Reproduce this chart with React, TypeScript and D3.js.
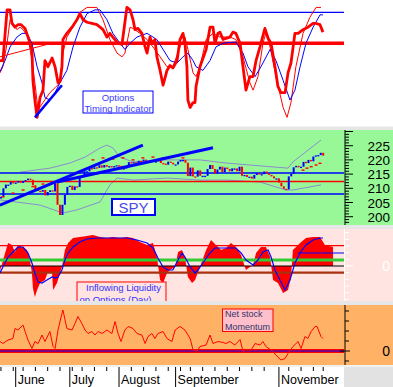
import React from 'react';
import * as d3 from 'd3';

const W = 393;
const H = 387;
const PLOT_R = 344;

// trading-day index (0 = May 23) of month starts and week starts
const monthNames = ['June', 'July', 'August', 'September', 'November'];
const monthStarts = [6, 28, 48, 71, 113];
const weekStarts = [0, 5, 9, 14, 19, 24, 29, 33, 38, 43, 53, 58, 63, 68, 73, 77, 82, 87, 92, 97, 102, 107, 117, 122, 127, 131];

// options timing indicator  [day, value]
const oscRaw = [[-0.4,51],[0.8,51],[1.7,73],[2.5,92],[3.7,92],[4.5,81],[5.7,78],[6.9,80],[8.2,80],[9.8,77],[11,70],[12.6,60],[13,35],[13.8,19],[14.7,5],[15.9,21],[17.1,27],[17.9,51],[19.1,46],[20.8,53],[22,46],[23.2,33],[24,34],[24.8,46],[25.2,68],[26.8,73],[28.9,78],[30.9,84],[32.1,89],[33.4,84],[35,82],[37,81],[39,80],[40.3,78],[41.5,76],[43.1,70],[44.3,73],[45.5,70],[47.6,65],[49.2,64],[51.2,94],[52.5,92],[53.7,84],[54.5,76],[55.7,77],[57.3,73],[58.6,62],[59.4,57],[60.6,70],[61.4,65],[62.6,68],[63.4,54],[64.7,43],[65.9,31],[67.5,43],[68.7,47],[69.9,45],[71.6,51],[72.8,68],[74,73],[74.8,65],[75.6,46],[76,19],[76.9,13],[78.1,17],[78.9,17],[79.3,30],[80.9,46],[83.4,60],[85,78],[86.2,78],[87,65],[88.2,73],[89,74],[90.3,68],[91.5,69],[93.1,70],[94.3,74],[95.5,73],[97.2,65],[98.4,46],[99.6,27],[101.2,38],[102.5,38],[103.7,51],[105.3,62],[107.3,77],[108.6,69],[109.8,65],[111.4,46],[112.6,30],[113.8,25],[115.5,25],[116.7,41],[117.9,49],[119.5,73],[120.8,73],[122.8,76],[124.8,78],[126.9,81],[128.1,81],[129.7,80],[130.9,74]];
const oscFast = [[-0.4,41],[0.8,46],[2.5,65],[3.7,84],[4.9,81],[6.5,76],[7.7,78],[9,76],[11,70],[12.6,51],[13.8,33],[15.1,11],[17.1,17],[19.9,25],[22,29],[24,33],[25.2,57],[26.8,70],[29.3,78],[32.1,90],[35,94],[39,94],[41.5,84],[44.3,68],[47.2,57],[49.2,54],[50.4,57],[52.5,78],[53.7,77],[56.5,73],[59.4,68],[61.8,62],[64.7,54],[67.5,46],[69.9,46],[72.8,62],[74.8,70],[76,60],[78.1,41],[79.3,38],[80.9,46],[83.4,68],[86.2,73],[89,70],[93.1,70],[95.5,68],[98.4,54],[101.2,33],[102.5,27],[104.5,38],[106.5,65],[107.7,73],[109.4,62],[111.8,38],[114.7,13],[116.3,5],[117.9,17],[119.9,46],[122.8,73],[125.6,86],[128.1,94],[130.1,94]];
const oscSlow = [[-0.4,42],[1.7,51],[3.7,62],[6.5,70],[8.6,73],[10.6,73],[12.6,65],[14.7,46],[16.7,33],[17.9,21],[19.9,19],[22,25],[24,33],[26.8,43],[29.3,62],[32.1,78],[35,89],[38.2,92],[40.3,92],[43.1,84],[45.5,73],[48.4,65],[50.4,60],[52.5,65],[55.3,70],[59.4,73],[63.4,68],[65.9,60],[68.7,51],[71.6,49],[74,54],[76,57],[78.1,51],[79.3,46],[82.1,43],[85,51],[87.4,62],[90.3,65],[95.5,66],[98.4,57],[100.4,46],[103.3,38],[105.7,46],[109.4,60],[111.8,51],[114.7,35],[117.5,19],[119.5,27],[121.6,46],[124,65],[126.9,78],[129.7,88],[130.9,88]];
const oscTrendBlue = [[13.8,5],[24.8,31]];
const oscTrendRed = [[-0.4,54],[18.7,64]];
const oscLevels = [90, 65];

// SPY daily closes, day 0 .. 131
const spyClose = [207,210,211.3,211.3,212.2,211.9,212,212.6,211.9,212.6,212.9,213.4,213,211.1,209.5,209.1,208.8,209.4,207.5,208.7,209.3,208.9,211.8,204.2,200.6,204.2,207.7,210.5,210.9,209.4,210.7,210.5,213.7,214.4,216,216,217.1,216.8,217.4,217.2,218.1,217.3,218.2,217.6,217.8,217.5,217.8,218.1,217.9,216.6,217.2,217.4,219.2,219.1,219.2,218.6,219.7,219.5,220.1,219,219.4,219.9,219.5,219.5,219.9,218.9,218.7,218.3,219.4,219,218.4,218.4,219.4,220,220,219,214.3,217.3,214.2,214.1,216.3,214.4,214.4,214.4,216.8,218.2,216.8,215.2,216.6,217.6,215.7,217.3,216.8,216,217,217,216,217.6,214.4,214.7,214,214.1,213.4,214.7,215.3,214.9,215,215.9,215.2,214.7,214.2,213.5,213.5,212,210.7,209.8,209.6,214.2,215.1,217.4,217.9,217.4,217.6,219.3,218.9,220,219.5,221.2,221.6,221.7,222.5,221.5];
const bbUpper = [[7.8,215.7],[19.9,217.1],[28.1,218.9],[34.2,221],[40.3,224.2],[43.1,225.2],[45.5,224.2],[48.4,221],[53.7,219.3],[67.5,220],[80.9,220],[91.5,218.9],[105.3,217.9],[116.7,217.1],[118.7,219.3],[130.1,227]];
const bbLower = [[-0.4,205.9],[15.9,204.1],[25.2,201.3],[30.9,202.4],[40.3,205.2],[44.3,211.2],[47.2,213.6],[53.7,212.9],[67.5,213.6],[80.9,212.9],[91.5,212.9],[105.3,212.2],[115.9,209.4],[118.7,209.4],[130.1,211.2]];
const sarDots = [[0.8,207],[4.9,208.3],[9,209.4],[13,210.6],[17.1,211.5],[21.2,211.9],[37.4,220],[41.5,220.7],[45.5,220.3],[49.6,220.7],[53.7,220],[57.7,220.7],[61.8,221],[65.9,220.7],[69.9,221],[74,220.7],[122.8,216.4],[124.4,217.1],[126.1,217.6],[128.1,218.2],[129.7,218.8]];
const spyTrendA = [[-0.4,204.1],[57.7,225.2]];
const spyTrendB = [[22.8,212.2],[86.2,224.3]];
const spyLevels = [215.4, 212.4, 208.0];
const spyTicks = [200, 205, 210, 215, 220, 225];

// inflowing liquidity on options
const liqFlow = [[-0.4,-15],[1.7,39],[2.9,69],[4.5,63],[5.7,42],[6.9,63],[8.6,57],[10.6,48],[11.8,18],[12.6,-21],[13,-66],[13.8,-93],[14.7,-72],[15.9,-51],[17.9,-42],[19.1,-18],[20.8,-21],[21.2,-72],[22.8,-51],[24,-21],[24.8,-3],[26,48],[27.3,69],[29.3,84],[32.1,87],[35,90],[37.4,93],[40.3,87],[43.1,84],[45.5,87],[48.4,84],[51.2,87],[53.7,84],[56.5,72],[59.4,63],[61.8,69],[63.4,27],[64.7,-42],[65.9,-51],[67.5,-21],[68.7,-12],[70.8,-3],[72,42],[73.6,48],[74.8,27],[76,-33],[77.7,-51],[78.9,-42],[80.9,-3],[83.4,48],[85.4,78],[87.4,63],[89.5,48],[91.5,54],[93.5,69],[95.5,57],[97.6,33],[99.2,-3],[99.6,-12],[101.2,-3],[102.5,3],[103.7,39],[105.7,57],[107.7,57],[109.4,27],[110.6,-42],[112.6,-51],[114.7,-81],[116.7,-72],[117.9,-33],[118.7,48],[121.6,69],[124,84],[126.9,87],[129.7,87],[131.7,63],[135,57]];
const liqSmooth = [[-0.4,-21],[0.8,-3],[2.9,27],[4.9,42],[6.9,57],[9,57],[11,39],[12.6,9],[13.8,-21],[15.1,-48],[16.7,-51],[18.7,-42],[20.8,-33],[22,-36],[23.2,-33],[24.8,-12],[26,18],[27.3,39],[29.3,57],[32.1,72],[35,81],[39,84],[43.1,84],[47.2,84],[51.2,84],[55.3,78],[59.4,69],[61.8,54],[63.8,24],[65.9,-3],[67.9,-12],[69.9,-12],[72,18],[73.6,39],[74.8,27],[76.9,-3],[78.9,-21],[80.1,-12],[82.1,9],[85,39],[87,54],[89,54],[93.1,54],[95.5,54],[97.6,39],[99.6,18],[102.5,3],[104.5,18],[106.5,42],[108.6,48],[109.8,27],[111.4,-12],[113.4,-42],[115.5,-72],[117.5,-42],[119.5,9],[121.6,39],[124,63],[126.9,78],[129.7,84],[130.9,84]];
const liqLevels = [61, 18, 0, -20];
const liqMarker = [[120.8,39],[139.5,39]];
const liqTicks = [-100, -80, -60, -40, -20, 0, 20, 40, 60, 80, 100];

// net stock momentum
const momentum = [[-0.4,19],[0.8,15],[2.9,22],[4.9,25],[5.7,45],[6.9,42],[9,52],[9.8,39],[11,22],[12.6,5],[13.8,19],[15.1,15],[16.7,32],[17.9,19],[19.9,39],[21.2,9],[22,5],[23.2,42],[24.8,75],[25.2,82],[26.8,45],[28.9,42],[30.1,55],[31.3,69],[32.9,55],[34.2,42],[35.4,35],[37,39],[38.2,32],[39.5,39],[41.1,35],[43.1,42],[45.1,35],[46.4,59],[47.6,35],[48.8,19],[50.4,42],[51.7,49],[53.7,45],[55.3,35],[57.3,32],[58.6,15],[59.8,29],[61.4,35],[62.6,25],[63.8,35],[65.9,39],[67.5,25],[69.5,19],[70.8,42],[72.8,49],[74.8,42],[76.9,25],[78.1,2],[79.7,-1],[80.9,9],[83.4,12],[85,32],[86.2,15],[88.2,19],[90.3,17],[91.5,15],[93.1,19],[95.1,12],[97.2,23],[98.4,-1],[99.6,2],[101.7,2],[103.3,15],[105.3,12],[106.5,19],[107.7,9],[109.8,2],[111.8,-8],[113.8,-18],[115.5,-15],[116.7,-5],[118.7,9],[120.8,19],[122,5],[123.6,29],[124.8,25],[126.1,39],[127.7,49],[128.5,49],[130.1,29],[130.9,25]];
const momTicks = [-20, 0, 20, 40, 60, 80];

const FONT = '"Liberation Sans", Arial, sans-serif';
const GAP = '#e6e6e6';

const x = d3.scaleLinear().domain([0, 139.5]).range([0.94, 344.11]);
const yOsc = d3.scaleLinear().domain([-2, 100]).range([126, 0]);
const ySpy = d3.scaleLinear().domain([197.08, 230.53]).range([225, 130]);
const yLiq = d3.scaleLinear().domain([-105, 111]).range([301, 229]);
const yMom = d3.scaleLinear().domain([-28, 92]).range([365, 305]);

const mkLine = (y: d3.ScaleLinear<number, number>) =>
  d3.line<number[]>().x(d => x(d[0])).y(d => y(d[1]));

export default function App() {
  const oscLine = mkLine(yOsc);
  const spyLine = mkLine(ySpy);
  const liqLine = mkLine(yLiq);
  const momLine = mkLine(yMom);
  const liqArea = d3.area<number[]>().x(d => x(d[0])).y0(yLiq(0)).y1(d => yLiq(d[1]));

  const spyLevelColors = ['#0000ff', '#ff0000', '#0000ff'];
  const liqLevelColors = ['#ff0000', '#33cc33', '#000000', '#a83210'];
  const liqLevelWidths = [1.2, 3, 1, 2.2];

  return (
    <svg width={W} height={H} style={{ position: 'absolute', left: 0, top: 0, display: 'block' }} fontFamily={FONT}>
      <defs>
        <clipPath id="cOsc"><rect x={0} y={0} width={PLOT_R} height={126.5} /></clipPath>
        <clipPath id="cSpy"><rect x={0} y={130} width={PLOT_R} height={95} /></clipPath>
        <clipPath id="cLiq"><rect x={0} y={229} width={PLOT_R} height={72} /></clipPath>
        <clipPath id="cMom"><rect x={0} y={305} width={PLOT_R} height={60} /></clipPath>
      </defs>

      {/* backgrounds */}
      <rect x={0} y={0} width={W} height={H} fill="#ffffff" />
      <rect x={0} y={126.5} width={W} height={3.5} fill={GAP} />
      <rect x={0} y={130} width={W} height={95} fill="#98f898" />
      <rect x={0} y={225} width={W} height={4} fill={GAP} />
      <rect x={0} y={229} width={W} height={72} fill="#ffe4e1" />
      <rect x={0} y={301} width={W} height={4} fill={GAP} />
      <rect x={0} y={305} width={W} height={60} fill="#ffb266" />
      <rect x={0} y={365} width={W} height={2} fill="#f0f0f0" />
      <rect x={PLOT_R} y={367} width={W - PLOT_R} height={H - 367} fill="#e2e2e2" />

      {/* options timing indicator */}
      <g clipPath="url(#cOsc)">
        <line x1={0} x2={PLOT_R} y1={yOsc(oscLevels[0])} y2={yOsc(oscLevels[0])} stroke="#0000ff" strokeWidth={1.2} />
        <line x1={0} x2={PLOT_R} y1={yOsc(oscLevels[1])} y2={yOsc(oscLevels[1])} stroke="#ff0000" strokeWidth={3.5} />
        <path d={oscLine(oscFast) || ''} fill="none" stroke="#ff0000" strokeWidth={1} />
        <path d={oscLine(oscSlow) || ''} fill="none" stroke="#0000ff" strokeWidth={1} />
        <path d={oscLine(oscRaw) || ''} fill="none" stroke="#ff0000" strokeWidth={2.8} strokeLinejoin="round" />
        <path d={oscLine(oscTrendRed) || ''} fill="none" stroke="#ff0000" strokeWidth={1} />
        <path d={oscLine(oscTrendBlue) || ''} fill="none" stroke="#0000ff" strokeWidth={2.5} />
      </g>
      <rect x={83} y={91} width={70} height={22} fill="#ffffff" stroke="#0000ff" strokeWidth={1} />
      <text x={118} y={100.5} fontSize={9.5} fill="#3c3cff" textAnchor="middle">Options</text>
      <text x={118} y={111.5} fontSize={9.5} fill="#3c3cff" textAnchor="middle">Timing Indicator</text>

      {/* SPY */}
      <g clipPath="url(#cSpy)">
        <path d={spyLine(bbUpper) || ''} fill="none" stroke="#8c8cd0" strokeWidth={1} />
        <path d={spyLine(bbLower) || ''} fill="none" stroke="#8c8cd0" strokeWidth={1} />
        {spyLevels.map((v, i) => (
          <line key={i} x1={0} x2={PLOT_R} y1={ySpy(v)} y2={ySpy(v)} stroke={spyLevelColors[i]} strokeWidth={1.5} />
        ))}
        {spyClose.map((c, i) => {
          const o = i ? spyClose[i - 1] : c - 0.6;
          const y1 = ySpy(Math.max(o, c));
          const y2 = ySpy(Math.min(o, c));
          return (
            <rect key={i} x={x(i) - 1} y={y1} width={2} height={Math.max(1.3, y2 - y1)}
              fill={c >= o ? '#0000ff' : '#ff0000'} />
          );
        })}
        {sarDots.map((d, i) => (
          <rect key={i} x={x(d[0]) - 1.5} y={ySpy(d[1]) - 0.7} width={3} height={1.4} fill="#ff0000" />
        ))}
        <path d={spyLine(spyTrendA) || ''} fill="none" stroke="#0000ff" strokeWidth={3} />
        <path d={spyLine(spyTrendB) || ''} fill="none" stroke="#0000ff" strokeWidth={3} />
      </g>
      <rect x={112} y={199} width={43} height={16} fill="#ffffff" stroke="#0000ff" strokeWidth={2} />
      <text x={133.5} y={212.5} fontSize={15} fill="#4848e8" textAnchor="middle">SPY</text>
      <line x1={345} x2={345} y1={130} y2={225} stroke="#000" strokeWidth={1} />
      {d3.range(198, 231).map(v => (
        <line key={v} x1={345} x2={v % 5 === 0 ? 353 : 349} y1={ySpy(v)} y2={ySpy(v)} stroke="#000" strokeWidth={1} />
      ))}
      {spyTicks.map(v => (
        <text key={v} x={390} y={ySpy(v) + 5} fontSize={13.5} textAnchor="end" fill="#000">{v}</text>
      ))}

      {/* inflowing liquidity */}
      <g clipPath="url(#cLiq)">
        <path d={liqArea(liqFlow) || ''} fill="#ff0000" />
        {liqLevels.map((v, i) => (
          <line key={i} x1={0} x2={PLOT_R} y1={yLiq(v)} y2={yLiq(v)} stroke={liqLevelColors[i]} strokeWidth={liqLevelWidths[i]} />
        ))}
        <path d={liqLine(liqSmooth) || ''} fill="none" stroke="#0000ff" strokeWidth={1.2} />
        <path d={liqLine(liqMarker) || ''} fill="none" stroke="#0000ff" strokeWidth={1.2} />
        <rect x={77} y={282} width={89} height={30} fill="#ffe4e1" stroke="#ff0000" strokeWidth={1} />
        <text x={86} y={291} fontSize={9.5} fill="#3030ff">Inflowing Liquidity</text>
        <text x={79.5} y={303} fontSize={9.5} fill="#3030ff">on Options (Day)</text>
      </g>
      <line x1={344.5} x2={344.5} y1={229} y2={301} stroke="#ffffff" strokeWidth={1} />
      {liqTicks.map(v => (
        <line key={v} x1={344.5} x2={v === 0 ? 353 : 349} y1={yLiq(v)} y2={yLiq(v)} stroke="#ffffff" strokeWidth={1} />
      ))}
      <text x={390} y={yLiq(0) + 5} fontSize={14} textAnchor="end" fill="#ffffff">0</text>

      {/* net stock momentum */}
      <g clipPath="url(#cMom)">
        <line x1={0} x2={PLOT_R} y1={yMom(0)} y2={yMom(0)} stroke="#ff0000" strokeWidth={4} />
        <line x1={0} x2={PLOT_R} y1={yMom(0)} y2={yMom(0)} stroke="#0000ff" strokeWidth={1} />
        <path d={momLine(momentum) || ''} fill="none" stroke="#ff0000" strokeWidth={1} />
      </g>
      <rect x={222.5} y={309} width={50.5} height={22.5} fill="#ffc0cb" stroke="#ff0000" strokeWidth={1} />
      <text x={225} y={317} fontSize={9} fill="#333366">Net stock</text>
      <text x={225} y={329.5} fontSize={9} fill="#333366">Momentum</text>
      <line x1={345} x2={345} y1={305} y2={365} stroke="#000" strokeWidth={1} />
      {momTicks.map(v => (
        <line key={v} x1={v === 0 ? 340 : 345} x2={v === 0 ? 350 : 349} y1={yMom(v)} y2={yMom(v)} stroke="#000" strokeWidth={1} />
      ))}
      <text x={390} y={yMom(0) + 5} fontSize={14} textAnchor="end" fill="#000">0</text>

      {/* x axis */}
      {weekStarts.map(i => (
        <line key={i} x1={x(i)} x2={x(i)} y1={367} y2={371} stroke="#000" strokeWidth={1} />
      ))}
      {monthStarts.map((i, k) => (
        <g key={k}>
          <line x1={x(i)} x2={x(i)} y1={367} y2={387} stroke="#000" strokeWidth={1} />
          <text x={x(i) + 2} y={384} fontSize={12.5} fill="#000">{monthNames[k]}</text>
        </g>
      ))}
    </svg>
  );
}
